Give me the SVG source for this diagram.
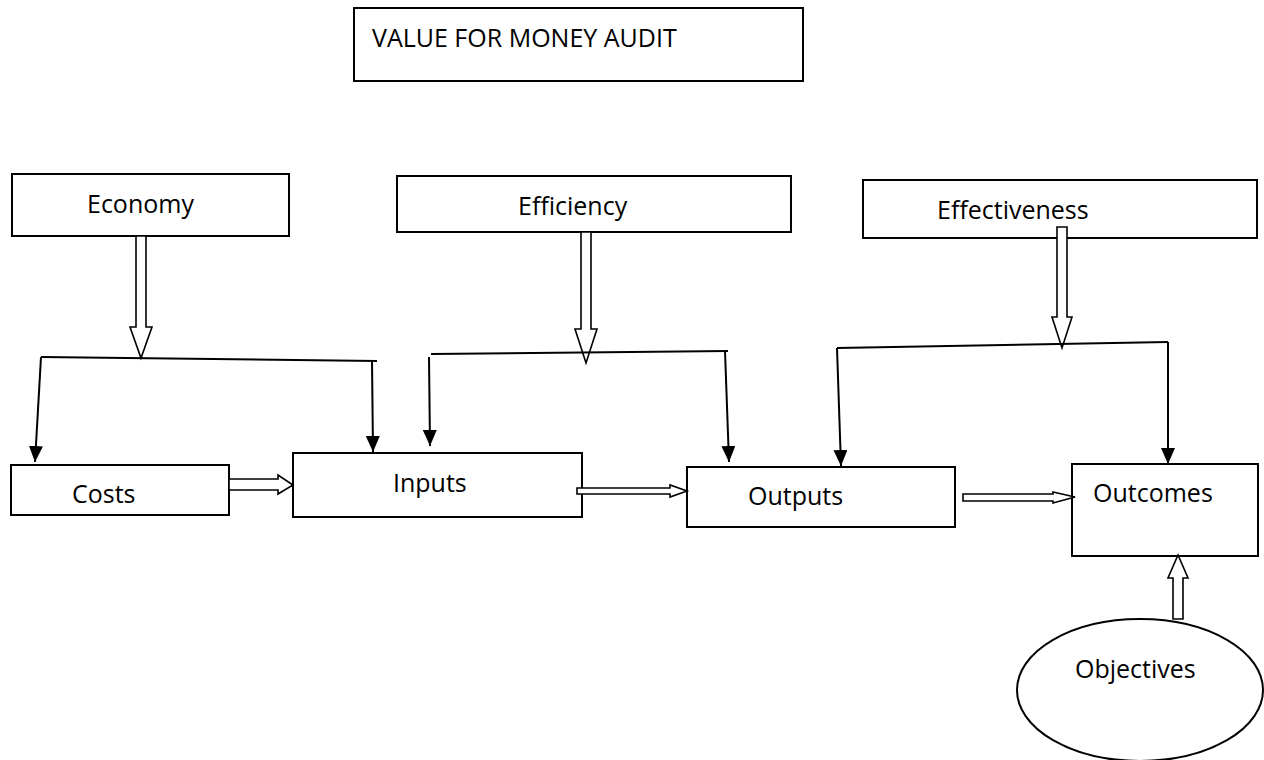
<svg xmlns="http://www.w3.org/2000/svg" width="1264" height="760" viewBox="0 0 1264 760">
<style>
.box{fill:#fff;stroke:#000;stroke-width:2}
.lbl{font-family:"Open Sans","Liberation Sans",sans-serif;font-size:25px;fill:#000}
.ln{fill:none;stroke:#000;stroke-width:2}
.hol{fill:#fff;stroke:#000;stroke-width:1.6;stroke-linejoin:miter}
</style>
<defs>
<marker id="fa" viewBox="0 0 16 14" refX="16" refY="7" markerWidth="16" markerHeight="14" markerUnits="userSpaceOnUse" orient="auto">
<path d="M0,0 L16,7 L0,14 Z" fill="#000"/>
</marker>
</defs>
<rect width="1264" height="760" fill="#fff"/>
<g id="title"><rect class="box" x="354" y="8" width="449" height="73"/><text class="lbl" x="372" y="47">VALUE FOR MONEY AUDIT</text></g>
<g id="economy"><rect class="box" x="12" y="174" width="277" height="62"/><text class="lbl" x="87" y="213">Economy</text></g>
<g id="efficiency"><rect class="box" x="397" y="176" width="394" height="56"/><text class="lbl" x="518" y="215">Efficiency</text></g>
<g id="effectiveness"><rect class="box" x="863" y="180" width="394" height="58"/><text class="lbl" x="937" y="219">Effectiveness</text></g>
<g id="costs"><rect class="box" x="11" y="465" width="218" height="50"/><text class="lbl" x="72" y="503">Costs</text></g>
<g id="inputs"><rect class="box" x="293" y="453" width="289" height="64"/><text class="lbl" x="393" y="492">Inputs</text></g>
<g id="outputs"><rect class="box" x="687" y="467" width="268" height="60"/><text class="lbl" x="748" y="505">Outputs</text></g>
<g id="outcomes"><rect class="box" x="1072" y="464" width="186" height="92"/><text class="lbl" x="1093" y="502">Outcomes</text></g>
<g id="objectives"><ellipse class="box" cx="1140" cy="690" rx="123" ry="71"/><text class="lbl" x="1075" y="678">Objectives</text></g>
<g id="connectors">
<polygon class="hol" points="136,236 146,236 146,327 152,327 141,358 130,327 136,327"/>
<polygon class="hol" points="581,232 591,232 591,329 597,329 586,363 575,329 581,329"/>
<polygon class="hol" points="1057,227 1067,227 1067,317 1072,317 1062,348 1052,317 1057,317"/>
<polygon class="hol" points="229,479 278,479 278,475 293,485 278,494 278,490 229,490"/>
<polygon class="hol" points="577,488 670,488 670,485 687,491 670,497 670,494 577,494"/>
<polygon class="hol" points="963,494 1053,494 1053,492 1075,497 1053,503 1053,501 963,501"/>
<polygon class="hol" points="1173,619 1173,578 1168,578 1178,555 1188,578 1183,578 1183,619"/>
<path class="ln" d="M41,357 L377,361"/>
<path class="ln" d="M41,357 L35,462" marker-end="url(#fa)"/>
<path class="ln" d="M372,361 L373,452" marker-end="url(#fa)"/>
<path class="ln" d="M431,354 L728,351"/>
<path class="ln" d="M429,357 L430,446" marker-end="url(#fa)"/>
<path class="ln" d="M725,351 L729,462" marker-end="url(#fa)"/>
<path class="ln" d="M837,348 L1168,342"/>
<path class="ln" d="M837,348 L841,466" marker-end="url(#fa)"/>
<path class="ln" d="M1168,342 L1168,464" marker-end="url(#fa)"/>
</g>
</svg>
